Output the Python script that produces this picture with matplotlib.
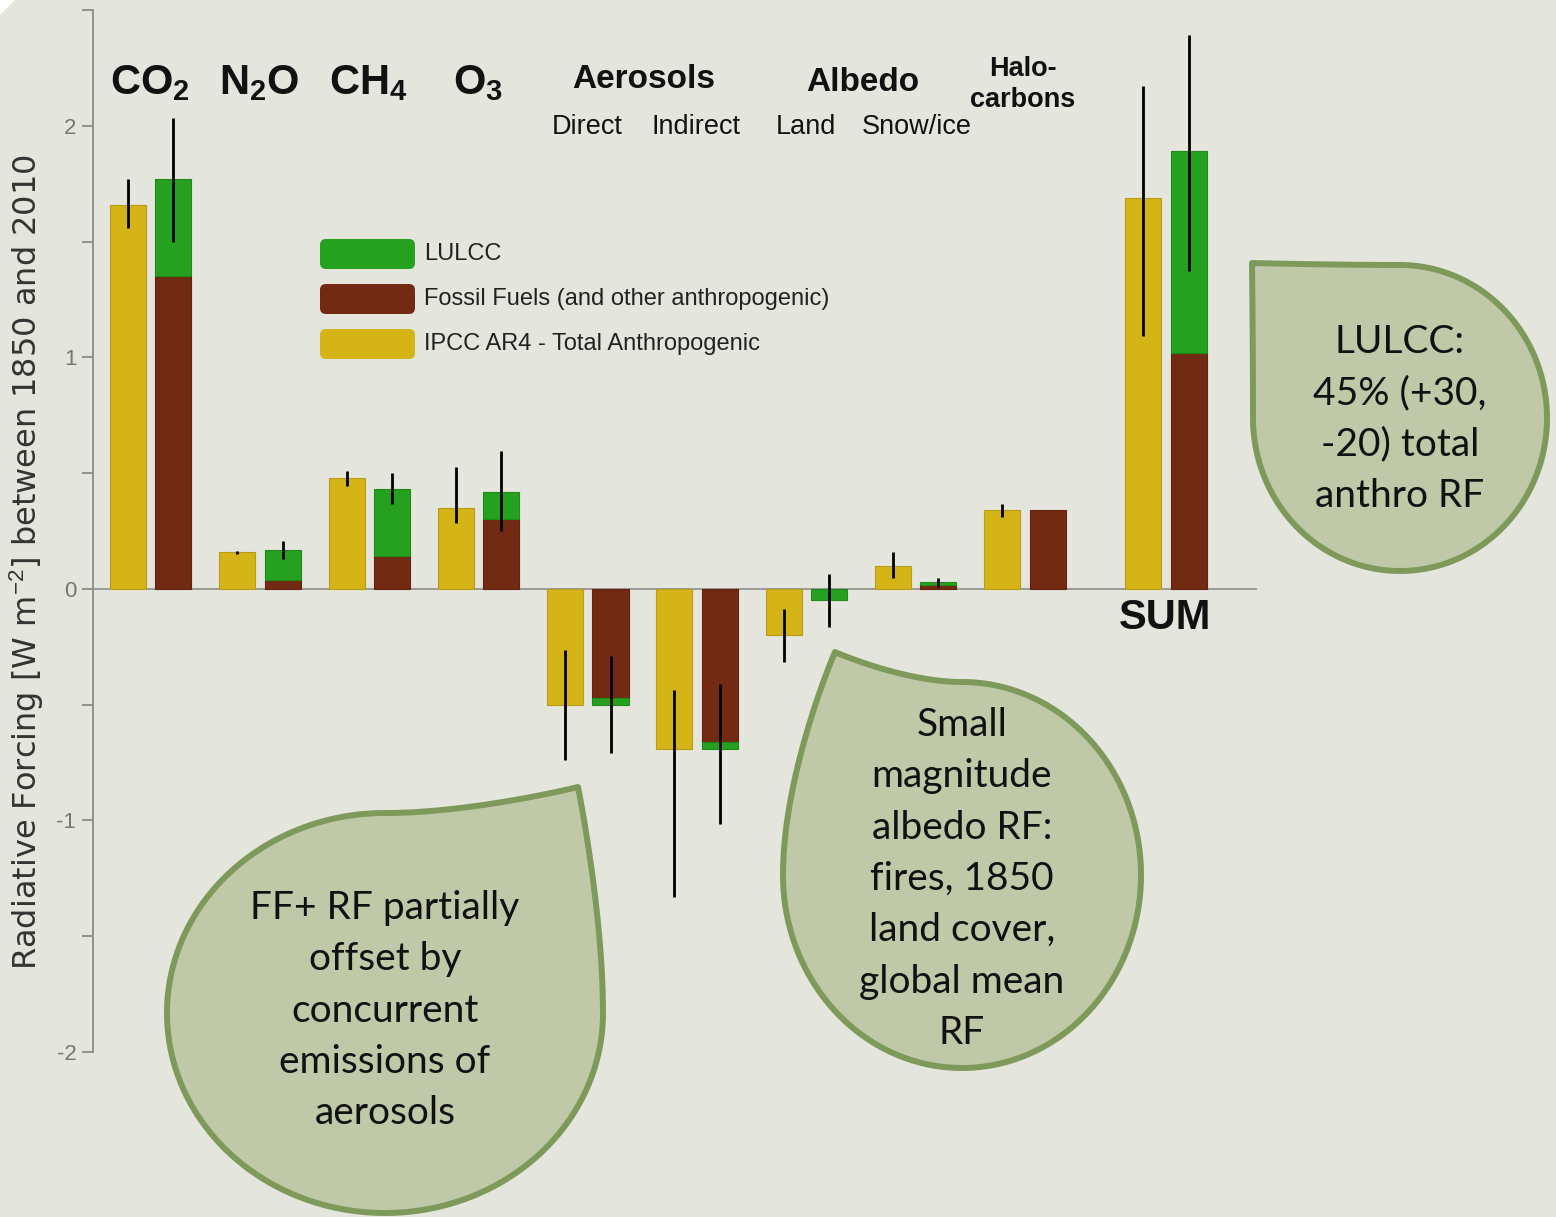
import numpy as np
import matplotlib.pyplot as plt
from matplotlib.patches import Polygon, FancyBboxPatch
from matplotlib.transforms import Affine2D

plt.rcParams["font.family"] = ["Liberation Sans", "DejaVu Sans"]
plt.rcParams["axes.unicode_minus"] = False
plt.rcParams["mathtext.fontset"] = "custom"
plt.rcParams["mathtext.rm"] = "Liberation Sans"
plt.rcParams["mathtext.it"] = "Liberation Sans:italic"
plt.rcParams["mathtext.bf"] = "Liberation Sans:bold"

W, H = 1556, 1217

# radiative forcing between 1850 and 2010 [W m-2]
agents = ["CO2", "N2O", "CH4", "O3", "Aerosol direct", "Aerosol indirect",
          "Albedo land", "Albedo snow/ice", "Halocarbons", "SUM"]
slot = np.array([0, 1, 2, 3, 4, 5, 6, 7, 8, 9.29])

# IPCC AR4 total anthropogenic RF with uncertainty range
ar4 = [1.66, 0.16, 0.48, 0.35, -0.50, -0.69, -0.20, 0.10, 0.34, 1.69]
ar4_lo = [1.56, 0.15, 0.445, 0.285, -0.74, -1.33, -0.315, 0.045, 0.31, 1.09]
ar4_hi = [1.77, 0.165, 0.51, 0.525, -0.265, -0.435, -0.085, 0.16, 0.365, 2.17]

# split: fossil fuels (and other anthropogenic) + land use / land cover change
fossil = np.array([1.35, 0.04, 0.14, 0.30, -0.47, -0.66, 0.0, 0.017, 0.34, 1.02])
lulcc = np.array([0.42, 0.13, 0.29, 0.12, -0.03, -0.03, -0.05, 0.013, 0.0, 0.87])
split_lo = np.array([1.50, 0.13, 0.365, 0.25, -0.71, -1.015, -0.165, 0.01, np.nan, 1.375])
split_hi = np.array([2.035, 0.205, 0.50, 0.595, -0.29, -0.41, 0.065, 0.047, np.nan, 2.39])

legend_labels = ["LULCC", "Fossil Fuels (and other anthropogenic)",
                 "IPCC AR4 - Total Anthropogenic"]

YELLOW = "#D5B417"
BROWN = "#722A12"
GREEN = "#25A01F"
GREY = "#8C8C8C"
BG = "#E4E5DC"
BUBBLE = "#BFC8A7"
BUBBLE_EDGE = "#7E9A5B"

fig = plt.figure(figsize=(W / 100, H / 100), dpi=100, facecolor=BG)
ax = fig.add_axes([93 / W, 1 - 1052 / H, (1257 - 93) / W, (1052 - 10) / H])
ax.set_facecolor("none")

bw = 0.33
off = 0.415
ax.bar(slot, ar4, bw, color=YELLOW, edgecolor="#B99C15", linewidth=0.8, zorder=2)
ff = fossil != 0
ax.bar(slot[ff] + off, fossil[ff], bw, color=BROWN, edgecolor="#62230F",
       linewidth=0.8, zorder=2)
lu = lulcc != 0
ax.bar(slot[lu] + off, lulcc[lu], bw, bottom=fossil[lu], color=GREEN,
       edgecolor="#1F8A1A", linewidth=0.8, zorder=2)

ax.vlines(slot, ar4_lo, ar4_hi, colors="black", linewidth=2, zorder=3)
has_err = ~np.isnan(split_lo)
ax.vlines((slot + off)[has_err], split_lo[has_err], split_hi[has_err],
          colors="black", linewidth=2, zorder=3)

ax.axhline(0, color="#9A9A9A", linewidth=1.4, zorder=1)

ax.set_xlim(-0.32, 10.33)
ax.set_ylim(-2, 2.5)
ax.set_xticks([])
ax.set_yticks([-2, -1, 0, 1, 2])
ax.set_yticks([-1.5, -0.5, 0.5, 1.5, 2.5], minor=True)
ax.tick_params(axis="y", which="both", length=8, width=1.3, color=GREY,
               labelcolor="#777777", labelsize=16, pad=4)
for s in ["top", "right", "bottom"]:
    ax.spines[s].set_visible(False)
ax.spines["left"].set_color(GREY)
ax.spines["left"].set_linewidth(1.3)
ax.spines["left"].set_bounds(-2, 2.5)

# column headings
ink = "#111111"
gas = [r"$\mathbf{CO_2}$", r"$\mathbf{N_2O}$", r"$\mathbf{CH_4}$", r"$\mathbf{O_3}$"]
for i, lab in enumerate(gas):
    ax.text(slot[i] + 0.2, 2.185, lab, fontsize=30, ha="center", va="center", color=ink)
ax.text(4.72, 2.2, "Aerosols", fontsize=24, fontweight="bold", ha="center", va="center", color=ink)
ax.text(6.72, 2.185, "Albedo", fontsize=24, fontweight="bold", ha="center", va="center", color=ink)
for x, lab in zip([4.2, 5.2, 6.2, 7.22], ["Direct", "Indirect", "Land", "Snow/ice"]):
    ax.text(x, 1.995, lab, fontsize=19.5, ha="center", va="center", color=ink)
ax.text(8.19, 2.245, "Halo-", fontsize=19.5, fontweight="bold", ha="center", va="center", color=ink)
ax.text(8.19, 2.11, "carbons", fontsize=19.5, fontweight="bold", ha="center", va="center", color=ink)
ax.text(slot[9] + 0.2, -0.125, "SUM", fontsize=30, fontweight="bold", ha="center", va="center", color=ink)

fig.text(27 / W, 1 - 562 / H, "Radiative Forcing [W m$^{-2}$] between 1850 and 2010",
         rotation=90, ha="center", va="center", fontsize=23, color="#333333",
         family=["DejaVu Sans"])

# pixel-space transform for the overlay artwork (y pointing down)
px = Affine2D().scale(1 / W, -1 / H).translate(0, 1) + fig.transFigure

# legend
for yc, c, lab in zip([254, 299, 344], [GREEN, BROWN, YELLOW], legend_labels):
    fig.add_artist(FancyBboxPatch((320, yc - 15), 95, 30,
                                  boxstyle="round,pad=0,rounding_size=6",
                                  transform=px, facecolor=c, edgecolor="none"))
    fig.text(424, yc, lab, transform=px, fontsize=17, ha="left", va="center", color="#222222")


def bezier(p0, p1, p2, p3, n=60):
    t = np.linspace(0, 1, n)[:, None]
    return ((1 - t) ** 3 * p0 + 3 * (1 - t) ** 2 * t * p1
            + 3 * (1 - t) * t ** 2 * p2 + t ** 3 * p3)


def teardrop(cx, cy, rx, ry, tip, side):
    # elliptic body with one pointed corner, pixel coords (y down)
    if side == "right":
        a = np.linspace(np.pi / 2, 2 * np.pi, 240)
        d = 1
    else:
        a = np.linspace(np.pi / 2, -np.pi, 240)
        d = -1
    arc = np.column_stack([cx + rx * np.cos(a), cy - ry * np.sin(a)])
    tip = np.array(tip, float)

    def tangent(ang):
        v = d * np.array([-rx * np.sin(ang), -ry * np.cos(ang)])
        return v / np.hypot(*v)

    j0, j1 = arc[0], arc[-1]
    k1 = 0.45 * np.hypot(*(tip - j1))
    k0 = 0.45 * np.hypot(*(tip - j0))
    seg1 = bezier(j1, j1 + k1 * tangent(a[-1]), tip, tip)
    seg2 = bezier(tip, tip, j0 - k0 * tangent(a[0]), j0)
    return np.vstack([arc, seg1[1:], seg2[1:]])


bubbles = [
    ((385, 1013, 218, 200, (578, 787), "right"),
     ["FF+ RF partially", "offset by", "concurrent", "emissions of", "aerosols"], 908),
    ((962, 875, 179, 193, (835, 652), "left"),
     ["Small", "magnitude", "albedo RF:", "fires, 1850", "land cover,", "global mean", "RF"], 725),
    ((1400, 418, 147, 153, (1252, 263), "left"),
     ["LULCC:", "45% (+30,", "-20) total", "anthro RF"], 342),
]
for shape, lines, y0 in bubbles:
    pts = teardrop(*shape)
    fig.add_artist(Polygon(pts, closed=True, transform=px, facecolor=BUBBLE,
                           edgecolor=BUBBLE_EDGE, linewidth=4.3, joinstyle="round"))
    for j, line in enumerate(lines):
        fig.text(shape[0], y0 + 51.3 * j, line, transform=px, fontsize=28,
                 family=["Lato", "DejaVu Sans"], ha="center", va="center", color=ink)

# folded page corner
fig.add_artist(Polygon([(0, 0), (15, 0), (0, 15)], closed=True, transform=px,
                       facecolor="white", edgecolor="none"))

fig.savefig("out.png", dpi=100, facecolor=BG)
